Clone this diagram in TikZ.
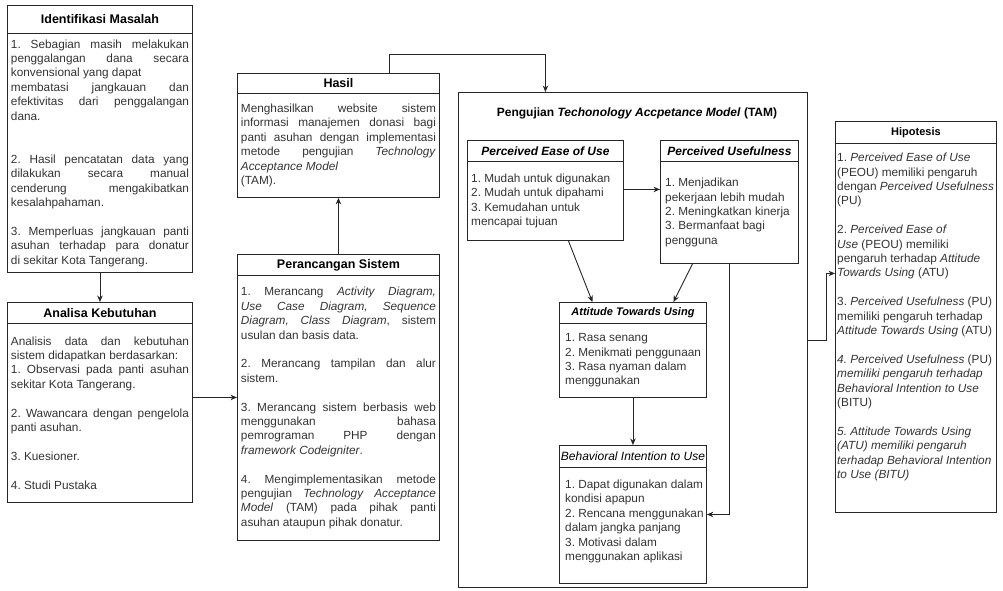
\documentclass[tikz,border=0pt]{standalone}
\usepackage{fontspec}
\setmainfont{Liberation Sans}
\usetikzlibrary{arrows.meta, positioning}
\definecolor{ink}{HTML}{333333}
\definecolor{rule}{HTML}{262626}
\setlength{\parindent}{0pt}
\frenchspacing
\tolerance=10000 \hbadness=10000 \hyphenpenalty=10000 \exhyphenpenalty=10000
\newcommand{\itemgap}[1][14.4pt]{\par\vspace{#1}}

\begin{document}
\begin{tikzpicture}[x=1pt, y=-1pt,
  head/.style={draw=rule, line width=0.9pt, anchor=north west, inner sep=0pt, font=\fontsize{12.5}{15}\selectfont\bfseries},
  sub/.style={head, font=\fontsize{12}{14.4}\selectfont\bfseries\itshape},
  cell/.style={draw=rule, line width=0.9pt, anchor=north west, inner sep=0pt},
  txt/.style={inner sep=0pt, text=ink, font=\fontsize{11.8}{14.4}\selectfont},
  just/.style={txt, align=justify},
  list/.style={txt, align=left},
  arr/.style={-{Stealth[length=6.5pt, width=5.5pt]}, draw=rule, line width=0.9pt}
]
\useasboundingbox (0,0) rectangle (1003,590);

% left column
\node[head, minimum width=185pt, minimum height=28pt] (identh) at (7,5) {Identifikasi Masalah};
\node[cell, minimum width=185pt, minimum height=239pt] (identb) at (7,33) {};
\node[just, text width=178pt] (identt) at (identb) {1. Sebagian masih melakukan\linebreak
penggalangan dana secara\linebreak
konvensional yang dapat\newline
membatasi jangkauan dan\linebreak
efektivitas dari penggalangan\linebreak
dana.\itemgap[28.8pt]
2. Hasil pencatatan data yang\linebreak
dilakukan secara manual\linebreak
cenderung mengakibatkan\linebreak
kesalahpahaman.\itemgap
3. Memperluas jangkauan panti\linebreak
asuhan terhadap para donatur\linebreak
di sekitar Kota Tangerang.};

\node[head, minimum width=185pt, minimum height=21pt] (analisah) at (7,302) {Analisa Kebutuhan};
\node[cell, minimum width=185pt, minimum height=179pt] (analisab) at (7,323) {};
\node[just, text width=178pt] (analisat) at (analisab) {Analisis data dan kebutuhan\linebreak
sistem didapatkan berdasarkan:\newline
1. Observasi pada panti asuhan\linebreak
sekitar Kota Tangerang.\itemgap
2. Wawancara dengan pengelola\linebreak
panti asuhan.\itemgap
3. Kuesioner.\itemgap
4. Studi Pustaka};

% middle column
\node[head, minimum width=202pt, minimum height=20pt] (hasilh) at (237,73) {Hasil};
\node[cell, minimum width=202pt, minimum height=104pt] (hasilb) at (237,93) {};
\node[just, text width=195pt] (hasilt) at (hasilb) {Menghasilkan website sistem\linebreak
informasi manajemen donasi bagi\linebreak
panti asuhan dengan implementasi\linebreak
metode pengujian \textit{Technology}\linebreak
\textit{Acceptance Model}\newline
(TAM).};

\node[head, minimum width=202pt, minimum height=21pt] (perh) at (237,254) {Perancangan Sistem};
\node[cell, minimum width=202pt, minimum height=265pt] (perb) at (237,275) {};
\node[just, text width=195pt] (pert) at (perb) {1. Merancang \textit{Activity Diagram,}\linebreak
\textit{Use Case Diagram, Sequence}\linebreak
\textit{Diagram, Class Diagram}, sistem\linebreak
usulan dan basis data.\itemgap
2. Merancang tampilan dan alur\linebreak
sistem.\itemgap
3. Merancang sistem berbasis web\linebreak
menggunakan bahasa\linebreak
pemrograman PHP dengan\linebreak
\textit{framework Codeigniter}.\itemgap
4. Mengimplementasikan metode\linebreak
pengujian \textit{Technology Acceptance}\linebreak
\textit{Model} (TAM) pada pihak panti\linebreak
asuhan ataupun pihak donatur.};

% TAM frame
\node[cell, minimum width=349pt, minimum height=495pt] (tam) at (458,92) {};
\node[txt, text=black, font=\fontsize{12}{14.4}\selectfont\bfseries] (tamt) at (637,113) {Pengujian \textit{Techonology Accpetance Model} (TAM)};

\node[sub, minimum width=156pt, minimum height=21pt] (peouh) at (467,140) {Perceived Ease of Use};
\node[cell, minimum width=156pt, minimum height=79pt] (peoub) at (467,161) {};
\node[list, right=4pt of peoub.west] (peout) {1. Mudah untuk digunakan\\
2. Mudah untuk dipahami\\
3. Kemudahan untuk\\
mencapai tujuan};

\node[sub, minimum width=138pt, minimum height=21pt] (puh) at (660,140) {Perceived Usefulness};
\node[cell, minimum width=138pt, minimum height=102pt] (pub) at (660,161) {};
\node[list, right=5pt of pub.west] (put) {1. Menjadikan\\
pekerjaan lebih mudah\\
2. Meningkatkan kinerja\\
3. Bermanfaat bagi\\
pengguna};

\node[sub, font=\fontsize{11}{14}\selectfont\bfseries\itshape, minimum width=147pt, minimum height=21pt] (atuh) at (559,302) {Attitude Towards Using};
\node[cell, minimum width=147pt, minimum height=74pt] (atub) at (559,323) {};
\node[list, right=6pt of atub.west] (atut) {1. Rasa senang\\
2. Menikmati penggunaan\\
3. Rasa nyaman dalam\\
menggunakan};

\node[sub, font=\fontsize{12}{14.4}\selectfont\itshape, minimum width=147pt, minimum height=22pt] (bituh) at (559,445) {Behavioral Intention to Use};
\node[cell, minimum width=147pt, minimum height=116pt] (bitub) at (559,467) {};
\node[list, right=6pt of bitub.west, yshift=4pt] (bitut) {1. Dapat digunakan dalam\\
kondisi apapun\\
2. Rencana menggunakan\\
dalam jangka panjang\\
3. Motivasi dalam\\
menggunakan aplikasi};

% hipotesis
\node[head, font=\fontsize{11}{14}\selectfont\bfseries, minimum width=161pt, minimum height=22pt] (hiph) at (835,121) {Hipotesis};
\node[cell, minimum width=161pt, minimum height=369pt] (hipb) at (835,143) {};
\node[list, right=2pt of hipb.west, yshift=11pt] (hipt) {1. \textit{Perceived Ease of Use}\\
(PEOU) memiliki pengaruh\\
dengan \textit{Perceived Usefulness}\\
(PU)\\[14.4pt]
2. \textit{Perceived Ease of}\\
\textit{Use} (PEOU) memiliki\\
pengaruh terhadap \textit{Attitude}\\
\textit{Towards Using} (ATU)\\[14.4pt]
3. \textit{Perceived Usefulness} (PU)\\
memiliki pengaruh terhadap\\
\textit{Attitude Towards Using} (ATU)\\[14.4pt]
\textit{4. Perceived Usefulness} (PU)\\
\textit{memiliki pengaruh terhadap}\\
\textit{Behavioral Intention to Use}\\
(BITU)\\[14.4pt]
\textit{5. Attitude Towards Using}\\
\textit{(ATU) memiliki pengaruh}\\
\textit{terhadap Behavioral Intention}\\
\textit{to Use (BITU)}};

% connectors
\draw[arr] (identb.south) -- (analisah.north);
\draw[arr] ([yshift=15.5pt]analisab.east) -- ([yshift=15.5pt]analisab.east -| perb.west);
\draw[arr] (perh.north) -- (hasilb.south);
\draw[arr] ([xshift=51pt]hasilh.north) -- ++(0,-19) -| ([xshift=-87.5pt]tam.north);
\draw[arr] ([yshift=11.5pt]peoub.east) -- ([yshift=11.5pt]peoub.east -| pub.west);
\draw[arr] ([xshift=23pt]peoub.south) -- ([xshift=-40.5pt]atuh.north);
\draw[arr] ([xshift=-37pt]pub.south) -- ([xshift=40.5pt]atuh.north);
\draw[arr] (pub.south) |- ([yshift=11pt]bitub.east);
\draw[arr] (atub.south) -- (bituh.north);
\draw[arr] (tam.east) -- ++(19,0) |- ([yshift=54.5pt]hipb.west);
\end{tikzpicture}
\end{document}
